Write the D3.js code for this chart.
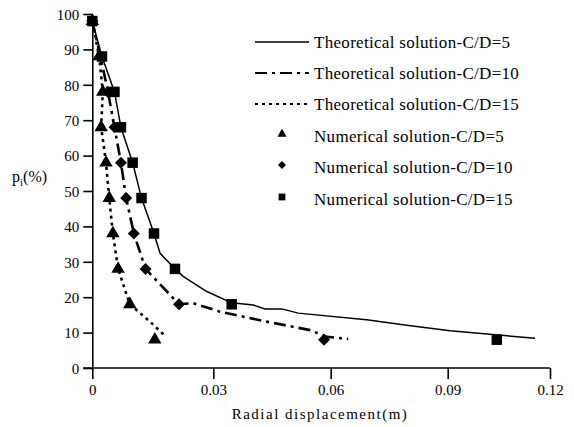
<!DOCTYPE html>
<html>
<head>
<meta charset="utf-8">
<script src="https://cdn.jsdelivr.net/npm/d3@7"></script>
<style>
  body { margin: 0; background: #fff; }
  svg { display: block; font-family: "Liberation Serif", "DejaVu Serif", serif; }
</style>
</head>
<body>
<svg id="chart" width="574" height="427"></svg>
<script>
// pressure levels of the numerical runs (%)
const pLevels = [98, 88, 78, 68, 58, 48, 38, 28, 18, 8];

// numerical solutions, radial displacement (m)
const numCD5 = [0, 0.0017, 0.0026, 0.0022, 0.0034, 0.0042, 0.0051, 0.0064, 0.0093, 0.0155];
const numCD10 = [0, 0.002, 0.0039, 0.0055, 0.0071, 0.0084, 0.0103, 0.0132, 0.0215, 0.0583];
const numCD15 = [0, 0.0024, 0.0055, 0.0071, 0.01, 0.0122, 0.0153, 0.0205, 0.0347, 0.1044];

// theoretical curves: displacement and pressure
const thCD5x = [0, 0.0024, 0.0055, 0.0071, 0.01, 0.0122, 0.0153, 0.0168, 0.0205, 0.0226, 0.0284, 0.0347, 0.0402, 0.0432, 0.0475, 0.0517, 0.0692, 0.0795, 0.0907, 0.1156];
const thCD5p = [98, 88, 78, 68, 58, 48, 38, 32.4, 28, 25.8, 21.6, 18.4, 17.8, 16.7, 16.7, 15.5, 13.6, 12.1, 10.5, 8.4];
const thCD10x = [0, 0.002, 0.0039, 0.0055, 0.0071, 0.0084, 0.0103, 0.0132, 0.0215, 0.025, 0.0317, 0.0436, 0.0547, 0.059, 0.0645];
const thCD10p = [98, 88, 78, 68, 58, 48, 38, 28, 18, 18.3, 15.9, 13.1, 10.7, 8.8, 8.2];
const thCD15x = [0, 0.0017, 0.0026, 0.0022, 0.0034, 0.0042, 0.0051, 0.0064, 0.0093, 0.0143, 0.0183];
const thCD15p = [98, 88, 78, 68, 58, 48, 38, 28, 18, 13.1, 8.8];

const xTicks = [0, 0.03, 0.06, 0.09, 0.12];
const yTicks = [0, 10, 20, 30, 40, 50, 60, 70, 80, 90, 100];

const svg = d3.select("#chart");

// the printed axis is not evenly spaced, so a piecewise scale
const x = d3.scaleLinear().domain(xTicks).range([92.3, 213.3, 330.7, 447.7, 550]);
const y = d3.scaleLinear().domain([0, 100]).range([368, 14]);

const xAxis = d3.axisBottom(x).tickValues(xTicks).tickSize(11).tickSizeOuter(0)
  .tickFormat(d => d === 0 ? "0" : d.toFixed(2));
const yAxis = d3.axisLeft(y).tickValues(yTicks).tickSize(9).tickSizeOuter(0);

const gx = svg.append("g").attr("transform", "translate(0,368)").call(xAxis);
const gy = svg.append("g").attr("transform", "translate(92.3,0)").call(yAxis);

[gx, gy].forEach(g => {
  g.attr("font-family", null);
  g.selectAll("path, line").attr("stroke", "#000").attr("stroke-width", 1.6);
  g.selectAll("text").attr("fill", "#000").style("font-size", "15px");
});
gx.select(".domain").attr("d", "M83,0H550");
gx.selectAll("text").attr("dy", null).attr("y", 27);
gy.selectAll("text").attr("x", -13).attr("dy", "0.35em");

// axis titles
svg.append("text").attr("x", 320).attr("y", 419).attr("text-anchor", "middle")
  .style("font-size", "15px").style("letter-spacing", "1.5px").text("Radial displacement(m)");
const yl = svg.append("text").attr("x", 12).attr("y", 182).style("font-size", "16px");
yl.append("tspan").text("p");
yl.append("tspan").attr("dy", 4).style("font-size", "11px").text("i");
yl.append("tspan").attr("dy", -4).text("(%)");

// theoretical lines
const line = d3.line().x(d => x(d[0])).y(d => y(d[1]));
const lines = [
  { xs: thCD5x, ps: thCD5p, dash: null, w: 1.5, name: "Theoretical solution-C/D=5" },
  { xs: thCD10x, ps: thCD10p, dash: "12,5,3,5", w: 2.6, name: "Theoretical solution-C/D=10" },
  { xs: thCD15x, ps: thCD15p, dash: "3,4", w: 2.6, name: "Theoretical solution-C/D=15" }
];
lines.forEach(s => {
  svg.append("path")
    .attr("d", line(s.xs.map((v, i) => [v, s.ps[i]])))
    .attr("fill", "none").attr("stroke", "#000")
    .attr("stroke-width", s.w).attr("stroke-dasharray", s.dash);
});

// numerical markers
const shapes = [
  { xs: numCD5, sym: d3.symbolTriangle, size: 78, rot: 0, lsize: 36, name: "Numerical solution-C/D=5" },
  { xs: numCD10, sym: d3.symbolSquare, size: 72, rot: 45, lsize: 32, name: "Numerical solution-C/D=10" },
  { xs: numCD15, sym: d3.symbolSquare, size: 110, rot: 0, lsize: 46, name: "Numerical solution-C/D=15" }
];
shapes.forEach(s => {
  svg.append("g").selectAll("path").data(s.xs.map((v, i) => [v, pLevels[i]])).join("path")
    .attr("d", d3.symbol(s.sym, s.size))
    .attr("transform", d => `translate(${x(d[0])},${y(d[1])}) rotate(${s.rot})`)
    .attr("fill", "#000");
});

// legend
const lg = svg.append("g").style("font-size", "17px").style("letter-spacing", "0.3px");
const rowY = [42, 73, 104, 136, 167, 199];
lines.forEach((s, i) => {
  lg.append("line").attr("x1", 255).attr("x2", 309).attr("y1", rowY[i]).attr("y2", rowY[i])
    .attr("stroke", "#000").attr("stroke-width", s.dash ? 2.2 : 1.6).attr("stroke-dasharray", s.dash);
  lg.append("text").attr("x", 314).attr("y", rowY[i] + 6).text(s.name);
});
shapes.forEach((s, i) => {
  const yy = rowY[i + 3];
  lg.append("path").attr("d", d3.symbol(s.sym, s.lsize))
    .attr("transform", `translate(282,${yy - 2}) rotate(${s.rot})`).attr("fill", "#000");
  lg.append("text").attr("x", 314).attr("y", yy + 6).text(s.name);
});
</script>
</body>
</html>
